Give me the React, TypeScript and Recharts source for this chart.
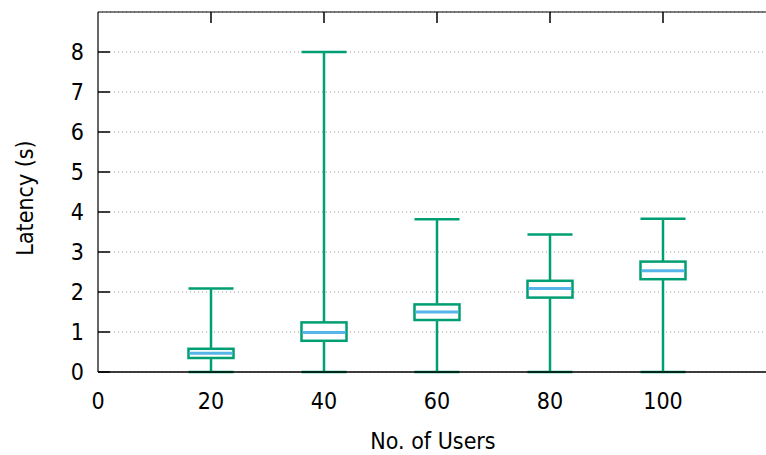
import React from 'react';
import { ComposedChart, Bar, XAxis, YAxis, CartesianGrid, Label } from 'recharts';

// box plot values (latency in seconds)
const users = [20, 40, 60, 80, 100];
const whiskerLow = [0, 0, 0, 0, 0];
const quartile1 = [0.35, 0.78, 1.3, 1.86, 2.32];
const medians = [0.47, 0.99, 1.5, 2.09, 2.53];
const quartile3 = [0.58, 1.24, 1.69, 2.28, 2.76];
const whiskerHigh = [2.09, 8.0, 3.82, 3.44, 3.83];

const xTicks = [0, 20, 40, 60, 80, 100];
const topTicks = [20, 40, 60, 80, 100];
const yTicks = [0, 1, 2, 3, 4, 5, 6, 7, 8];

const GREEN = '#009e73';
const BLUE = '#56b4e9';
const FONT = "'DejaVu Sans Condensed', 'DejaVu Sans', sans-serif";

const rows = users.map((u, i) => ({
	users: u,
	lo: whiskerLow[i],
	q1: quartile1[i],
	med: medians[i],
	q3: quartile3[i],
	hi: whiskerHigh[i],
}));

// the bar covers lo..hi, so its geometry gives the y scale for the other values
const BoxShape = (props: any) => {
	const { x, y, width, height, payload } = props;
	const top = Math.min(y, y + height);
	const h = Math.abs(height);
	const { lo, hi, q1, med, q3 } = payload;
	const toPx = (v: number) => top + h - ((v - lo) * h) / (hi - lo);
	const cx = x + width / 2;
	const left = x + 1;
	const right = x + width - 1;
	return (
		<g>
			<line x1={cx} x2={cx} y1={toPx(lo)} y2={toPx(q1)} stroke={GREEN} strokeWidth={2.5} />
			<line x1={cx} x2={cx} y1={toPx(q3)} y2={toPx(hi)} stroke={GREEN} strokeWidth={2.5} />
			<line x1={left} x2={right} y1={toPx(lo)} y2={toPx(lo)} stroke={GREEN} strokeWidth={2.5} />
			<line x1={left} x2={right} y1={toPx(hi)} y2={toPx(hi)} stroke={GREEN} strokeWidth={2.5} />
			<rect
				x={left}
				y={toPx(q3)}
				width={right - left}
				height={toPx(q1) - toPx(q3)}
				fill='#fff'
				stroke={GREEN}
				strokeWidth={2.5}
			/>
			<line x1={left + 1} x2={right - 1} y1={toPx(med)} y2={toPx(med)} stroke={BLUE} strokeWidth={3} />
		</g>
	);
};

// inward tick marks, as gnuplot draws them
const LeftTick = (props: any) => {
	const { x, y, payload } = props;
	return (
		<g>
			<text x={x} y={y} dy='0.36em' textAnchor='end' fontFamily={FONT} fontSize={23} fill='#000'>
				{payload.value}
			</text>
			<line x1={x + 14} x2={x + 26} y1={y} y2={y} stroke='#000' strokeWidth={1.5} />
		</g>
	);
};

const RightTick = (props: any) => {
	const { x, y } = props;
	return <line x1={x - 12} x2={x} y1={y} y2={y} stroke='#000' strokeWidth={1.5} />;
};

const TopTick = (props: any) => {
	const { x, y } = props;
	return <line x1={x} x2={x} y1={y} y2={y + 11} stroke='#000' strokeWidth={1.5} />;
};

const tickFont = { fontFamily: FONT, fontSize: 23, fill: '#000' };
const blackLine = { stroke: '#000', strokeWidth: 1.2 };

const App = () => {
	return (
		<div style={{ position: 'fixed', left: 0, top: 0, width: 766, height: 455, overflow: 'hidden', background: '#fff' }}>
			<ComposedChart width={800} height={455} data={rows} margin={{ top: 11, right: 23, bottom: 0, left: 0 }}>
				<CartesianGrid vertical={false} stroke='#999' strokeDasharray='1 3' />
				<XAxis
					dataKey='users'
					type='number'
					domain={[0, 120]}
					ticks={xTicks}
					height={83}
					tickSize={0}
					tickMargin={21}
					tickLine={false}
					tick={tickFont}
					axisLine={{ stroke: '#000', strokeWidth: 1.5 }}
				>
					<Label
						content={({ viewBox }: any) => (
							<text
								x={viewBox.x + viewBox.width / 2 - 4}
								y={viewBox.y + 77}
								textAnchor='middle'
								fontFamily={FONT}
								fontSize={23}
								fill='#000'
							>
								No. of Users
							</text>
						)}
					/>
				</XAxis>
				<XAxis
					xAxisId='top'
					orientation='top'
					type='number'
					dataKey='users'
					domain={[0, 120]}
					ticks={topTicks}
					height={1}
					tickSize={0}
					tickMargin={0}
					tickLine={false}
					tick={<TopTick />}
					axisLine={blackLine}
				/>
				<YAxis
					type='number'
					domain={[0, 9]}
					ticks={yTicks}
					width={98}
					tickSize={0}
					tickMargin={14}
					tickLine={false}
					tick={<LeftTick />}
					axisLine={blackLine}
				>
					<Label
						content={({ viewBox }: any) => {
							const lx = 33;
							const ly = viewBox.y + viewBox.height / 2 + 6;
							return (
								<text
									x={lx}
									y={ly}
									transform={`rotate(-90, ${lx}, ${ly})`}
									textAnchor='middle'
									fontFamily={FONT}
									fontSize={23}
									fill='#000'
								>
									Latency (s)
								</text>
							);
						}}
					/>
				</YAxis>
				<YAxis
					yAxisId='right'
					orientation='right'
					type='number'
					domain={[0, 9]}
					ticks={yTicks}
					width={1}
					tickSize={0}
					tickMargin={0}
					tickLine={false}
					tick={<RightTick />}
					axisLine={blackLine}
				/>
				<Bar
					dataKey={(d: any) => [d.lo, d.hi]}
					barSize={47}
					shape={(p: any) => <BoxShape {...p} />}
					isAnimationActive={false}
				/>
			</ComposedChart>
		</div>
	);
};

export default App;
